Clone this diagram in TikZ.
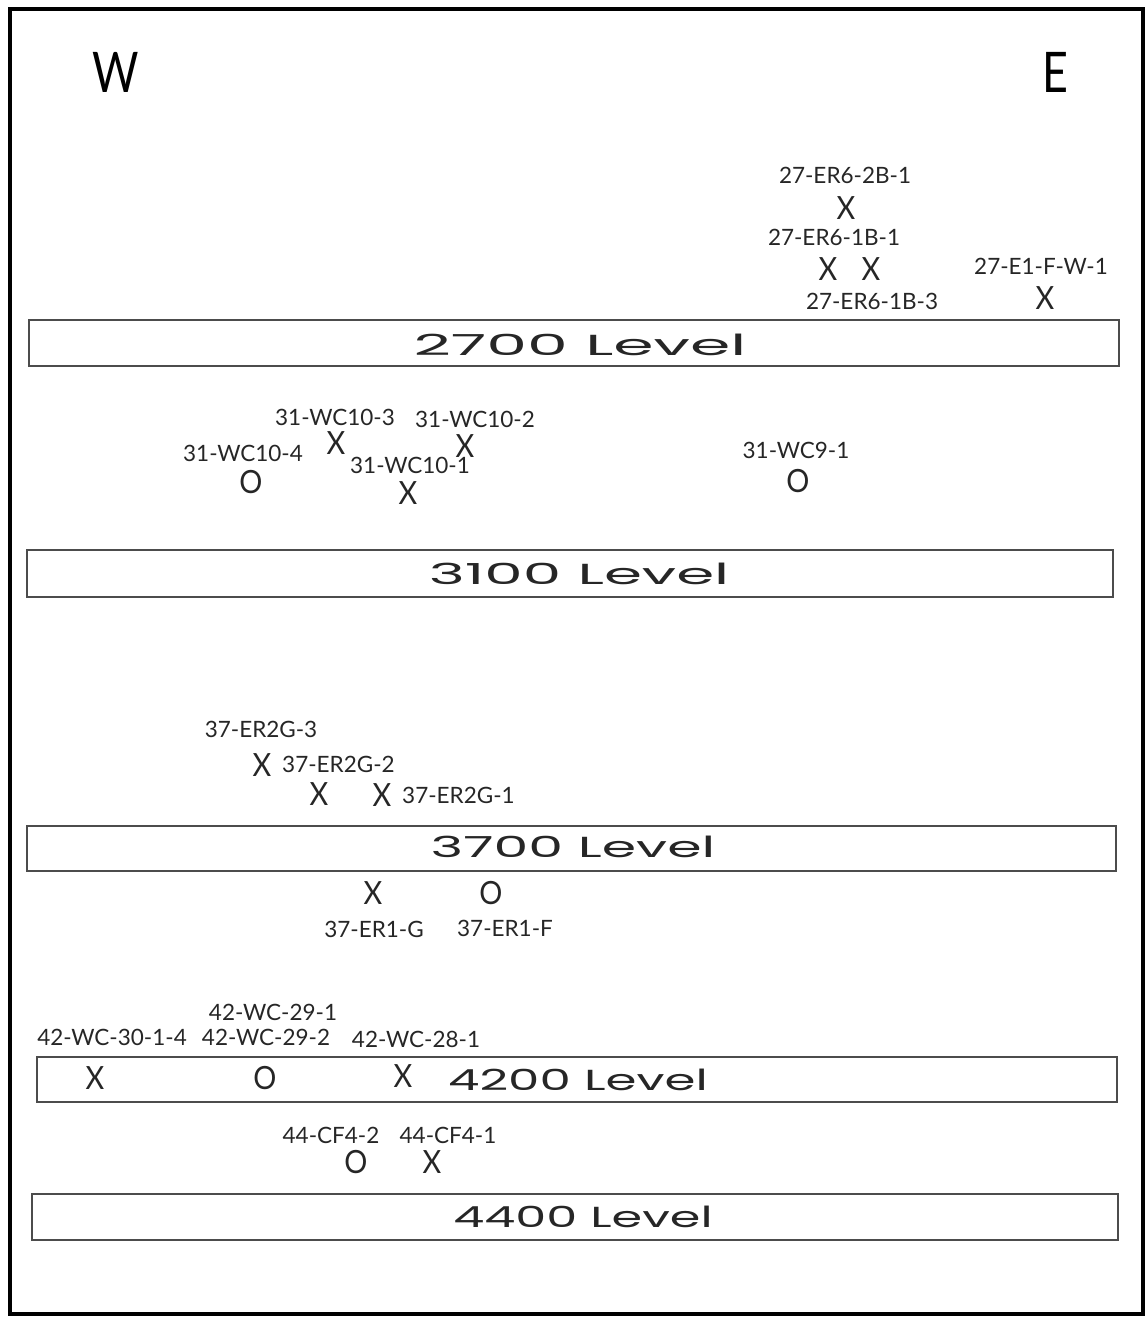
\documentclass[tikz,border=0pt]{standalone}
\usepackage{fontspec}
\setmainfont{Poppins}
\newfontfamily\tagfont{Lato}
\usetikzlibrary{positioning}

\begin{document}
\begin{tikzpicture}[x=1pt,y=-1pt,
    level/.style={draw=black!70,line width=1.1pt},
    levelname/.style={font=\fontsize{29}{29}\selectfont,inner sep=0pt,text=black!85},
    sample/.style={font=\tagfont\fontsize{32}{32}\selectfont,inner sep=0pt,xscale=0.9,text=black!85},
    tag/.style={font=\tagfont\fontsize{22.5}{22.5}\selectfont,inner sep=0pt,text=black!85},
    compass/.style={font=\tagfont\fontsize{56}{56}\selectfont,inner sep=0pt,xscale=0.8}]
  \useasboundingbox (0,0) rectangle (1147,1317);
  \draw[line width=3.5pt] (10,9) rectangle (1143,1314);
  \node[compass] (west) at (116,72) {W};
  \node[compass] (east) at (1055,72) {E};
  % levels
  \draw[level] (29,320) rectangle (1119,366);
  \draw[level] (27,550) rectangle (1113,597);
  \draw[level] (27,826) rectangle (1116,871);
  \draw[level] (37,1057) rectangle (1117,1102);
  \draw[level] (32,1194) rectangle (1118,1240);
  \node[levelname,xscale=2.24] (l2700) at (580,345) {2700 Level};
  \node[levelname,xscale=2.11] (l3100) at (579,574) {3100 Level};
  \node[levelname,xscale=1.91] (l3700) at (573,847) {3700 Level};
  \node[levelname,xscale=1.72] (l4200) at (578,1080) {4200 Level};
  \node[levelname,xscale=1.70] (l4400) at (583,1217) {4400 Level};
  % 2700 level samples
  \node[tag] (t27a) at (845,175) {27-ER6-2B-1};
  \node[sample] (s27a) at (846,208) {X};
  \node[tag] (t27b) at (834,237) {27-ER6-1B-1};
  \node[sample] (s27b) at (828,269) {X};
  \node[sample] (s27c) at (871,269) {X};
  \node[tag] (t27c) at (872,301) {27-ER6-1B-3};
  \node[tag] (t27d) at (1041,266) {27-E1-F-W-1};
  \node[sample] (s27d) at (1045,298) {X};
  % 3100 level samples
  \node[tag] (t31c) at (335,417) {31-WC10-3};
  \node[sample] (s31c) at (336,443) {X};
  \node[tag] (t31b) at (475,419) {31-WC10-2};
  \node[sample] (s31b) at (465,446) {X};
  \node[tag] (t31d) at (243,453) {31-WC10-4};
  \node[sample] (s31d) at (251,482) {O};
  \node[tag] (t31a) at (410,465) {31-WC10-1};
  \node[sample] (s31a) at (408,493) {X};
  \node[tag] (t31e) at (796,450) {31-WC9-1};
  \node[sample] (s31e) at (798,481) {O};
  % 3700 level samples
  \node[tag] (t37c) at (261,729) {37-ER2G-3};
  \node[sample] (s37c) at (262,765) {X};
  \node[tag,anchor=west] (t37b) at (282,764) {37-ER2G-2};
  \node[sample] (s37b) at (319,794) {X};
  \node[sample] (s37a) at (382,795) {X};
  \node[tag,anchor=west] (t37a) at (402,795) {37-ER2G-1};
  \node[sample] (s37g) at (373,893) {X};
  \node[tag] (t37g) at (374,929) {37-ER1-G};
  \node[sample] (s37f) at (491,893) {O};
  \node[tag] (t37f) at (505,928) {37-ER1-F};
  % 4200 level samples
  \node[tag] (t42b) at (273,1012) {42-WC-29-1};
  \node[tag] (t42a) at (112,1037) {42-WC-30-1-4};
  \node[tag] (t42c) at (266,1037) {42-WC-29-2};
  \node[tag] (t42d) at (416,1039) {42-WC-28-1};
  \node[sample] (s42a) at (95,1078) {X};
  \node[sample] (s42c) at (265,1078) {O};
  \node[sample] (s42d) at (403,1076) {X};
  % 4400 level samples
  \node[tag] (t44b) at (331,1135) {44-CF4-2};
  \node[tag] (t44a) at (448,1135) {44-CF4-1};
  \node[sample] (s44b) at (356,1162) {O};
  \node[sample] (s44a) at (432,1162) {X};
\end{tikzpicture}
\end{document}
